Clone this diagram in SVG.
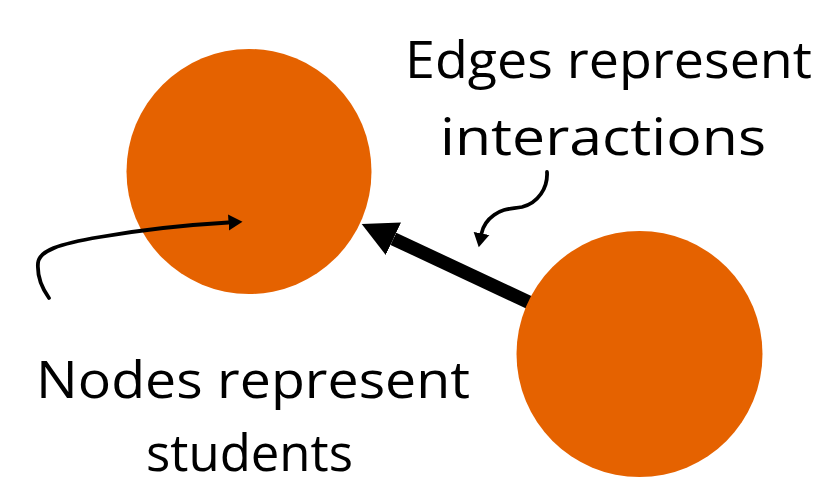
<svg xmlns="http://www.w3.org/2000/svg" width="829" height="486" viewBox="0 0 829 486">
  <style>
    .node { fill: #E56200; }
    .label { font-family: "Open Sans", "Noto Sans", "Liberation Sans", sans-serif; font-size: 52px; fill: #000; text-anchor: middle; }
    .edge { stroke: #000; stroke-width: 13.5; fill: none; }
    .pointer { stroke: #000; stroke-width: 3.8; fill: none; stroke-linecap: round; }
  </style>
  <defs>
    <marker id="bigHead" viewBox="0 -19 36 38" markerUnits="userSpaceOnUse" markerWidth="36" markerHeight="38" refX="0" refY="0" orient="auto">
      <path d="M0,-18 L35,0 L0,18 z" fill="#000"/>
    </marker>
    <marker id="smallHead" viewBox="0 -9 15 18" markerUnits="userSpaceOnUse" markerWidth="15" markerHeight="18" refX="0" refY="0" orient="auto">
      <path d="M0,-8 L14,0 L0,8 z" fill="#000"/>
    </marker>
  </defs>

  <!-- interaction edge runs beneath the nodes -->
  <g id="connectors">
    <line id="edge-interaction" class="edge" x1="639" y1="354" x2="393.4" y2="238.8" marker-end="url(#bigHead)"/>
  </g>

  <g id="node-student-a">
    <circle class="node" cx="249" cy="171.5" r="122.5"/>
  </g>
  <g id="node-student-b">
    <circle class="node" cx="639.5" cy="354" r="123"/>
  </g>

  <!-- annotation pointers -->
  <g id="pointers">
    <path class="pointer" d="M49,298 C41,287 37,276 38,263 C39,251 58,244 100,237 C140,230 185,225 228.5,222.5" marker-end="url(#smallHead)"/>
    <path class="pointer" d="M547,172 C548,188 538,203 522,207 C512,209 503,208 494,215 C487,220 483,226 481.5,233.5" marker-end="url(#smallHead)"/>
  </g>

  <g id="label-edges">
    <text class="label" x="608.5" y="78" textLength="407" lengthAdjust="spacingAndGlyphs">Edges represent</text>
    <text class="label" x="603" y="155" textLength="326" lengthAdjust="spacingAndGlyphs">interactions</text>
  </g>
  <g id="label-nodes">
    <text class="label" x="253" y="398" textLength="434" lengthAdjust="spacingAndGlyphs">Nodes represent</text>
    <text class="label" x="249.5" y="471" textLength="207" lengthAdjust="spacingAndGlyphs">students</text>
  </g>
</svg>
